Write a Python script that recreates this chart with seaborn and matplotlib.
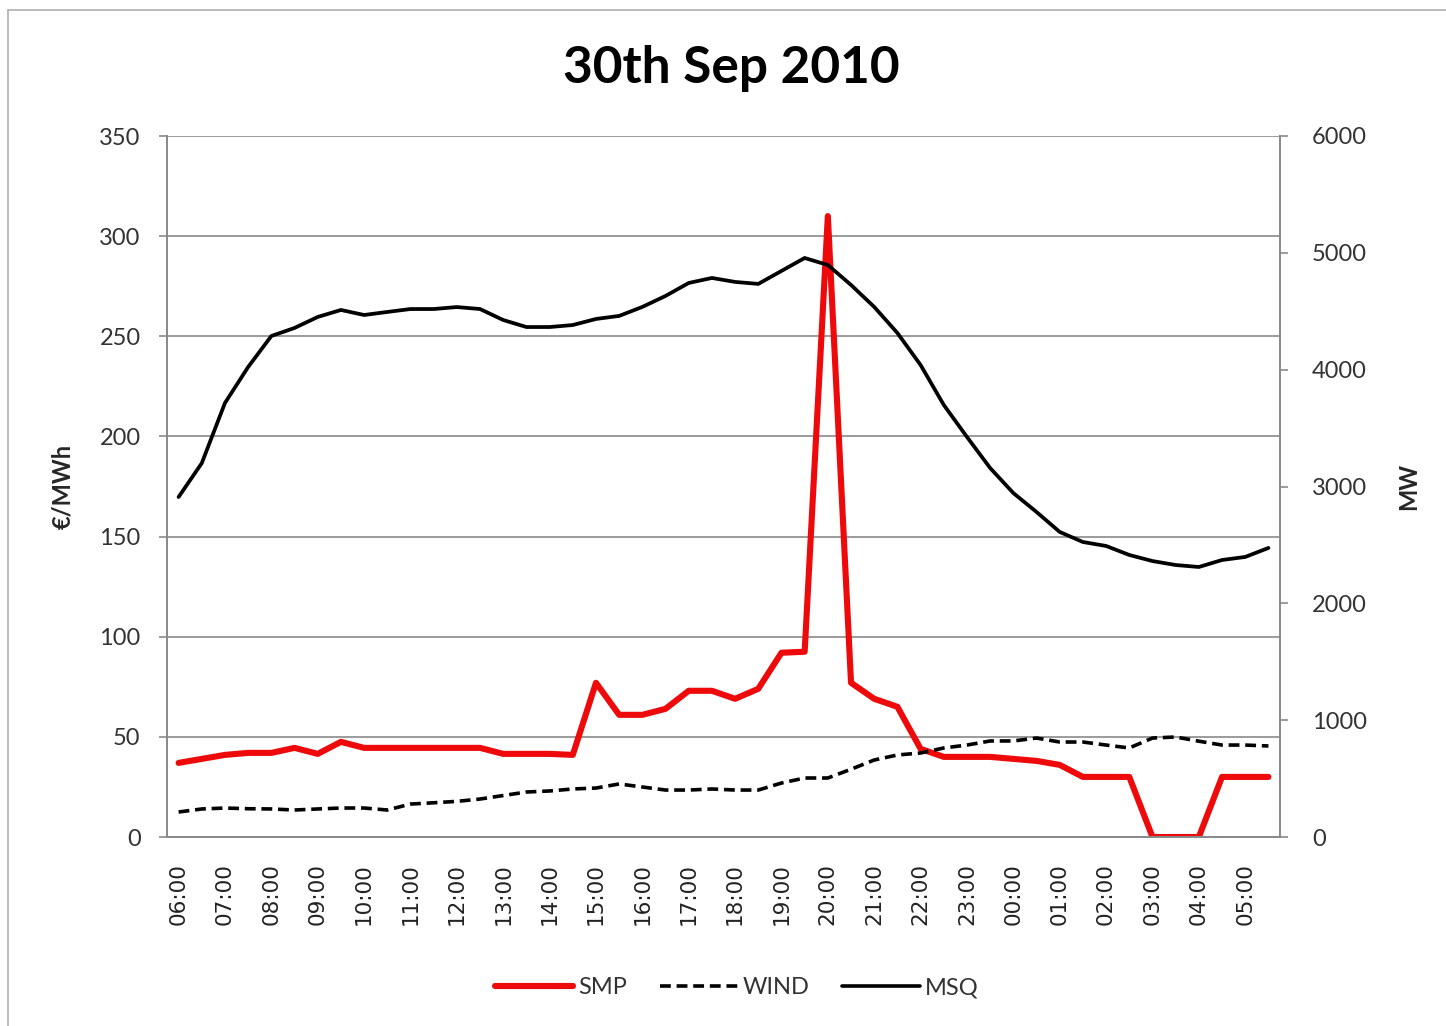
import numpy as np
import pandas as pd
import matplotlib
matplotlib.use("Agg")
import matplotlib.pyplot as plt
import seaborn as sns
from matplotlib.lines import Line2D

# ---------------- data ----------------
title = "30th Sep 2010"
slots = [f"{(6 + i // 2) % 24:02d}:{'00' if i % 2 == 0 else '30'}" for i in range(48)]
hour_labels = ["06:00", "07:00", "08:00", "09:00", "10:00", "11:00", "12:00", "13:00",
               "14:00", "15:00", "16:00", "17:00", "18:00", "19:00", "20:00", "21:00",
               "22:00", "23:00", "00:00", "01:00", "02:00", "03:00", "04:00", "05:00"]

smp = [37, 39, 41, 42, 42, 44.5, 41.5, 47.5, 44.5, 44.5, 44.5, 44.5, 44.5, 44.5,
       41.5, 41.5, 41.5, 41, 77, 61, 61, 64, 73, 73, 69, 74, 92, 92.5, 310, 77, 69, 65,
       44, 40, 40, 40, 39, 38, 36, 30, 30, 30, 0, 0, 0, 30, 30, 30]
wind = [214, 240, 248, 242, 240, 231, 240, 248, 248, 231, 282, 293, 305, 325, 355, 385,
        394, 411, 419, 454, 428, 402, 402, 411, 402, 402, 462, 505, 505, 580, 659, 702,
        719, 762, 787, 822, 822, 847, 813, 813, 787, 762, 847, 856, 820, 787, 787, 779]
msq = [2910, 3200, 3715, 4023, 4288, 4357, 4451, 4511, 4468, 4494, 4519, 4519, 4536, 4519,
       4425, 4365, 4365, 4382, 4434, 4460, 4537, 4631, 4742, 4785, 4751, 4734, 4845, 4956,
       4896, 4725, 4537, 4314, 4040, 3698, 3424, 3158, 2944, 2782, 2611, 2525, 2491, 2414,
       2362, 2328, 2311, 2371, 2397, 2474]

df = pd.DataFrame({"slot": slots, "pos": np.arange(len(slots)),
                   "SMP": smp, "WIND": wind, "MSQ": msq})

# ---------------- style ----------------
sns.set_theme(style="white")
plt.rcParams["font.family"] = ["Lato", "DejaVu Sans"]
GRID = "#8a8a8a"
RED = "#ee0a0a"

fig = plt.figure(figsize=(14.46, 10.26), dpi=100)
ax = fig.add_axes([167 / 1446, 1 - 837 / 1026, (1280 - 167) / 1446, (837 - 136) / 1026])
ax2 = ax.twinx()

sns.lineplot(data=df, x="pos", y="SMP", ax=ax, color=RED, linewidth=4.4,
             label="SMP", legend=False)
sns.lineplot(data=df, x="pos", y="WIND", ax=ax2, color="black", linewidth=2.6,
             linestyle=(0, (3, 1.6)), label="WIND", legend=False)
sns.lineplot(data=df, x="pos", y="MSQ", ax=ax2, color="black", linewidth=2.7,
             label="MSQ", legend=False)

ax.set_xlim(-0.5, len(slots) - 0.5)
ax.set_ylim(0, 350)
ax2.set_ylim(0, 6000)
ax.set_yticks(np.arange(0, 351, 50))
ax2.set_yticks(np.arange(0, 6001, 1000))

ax.set_xticks(np.arange(0, len(slots), 2))
ax.set_xticklabels(hour_labels, rotation=90, fontsize=15.5, color="#222222",
                   family=["DejaVu Sans"])
ax.set_xticks(np.arange(-0.5, len(slots) + 0.5, 1), minor=True)
ax.tick_params(axis="x", which="major", length=0, pad=19)
ax.tick_params(axis="x", which="minor", length=8, width=1.2, color=GRID, direction="out")
ax.tick_params(axis="y", length=6, width=1.2, color=GRID, direction="out",
               labelsize=17, labelcolor="#333333", pad=13)
ax2.tick_params(axis="y", length=6, width=1.2, color=GRID, direction="out",
                labelsize=17, labelcolor="#333333", pad=17)

ax.yaxis.grid(True, color=GRID, linewidth=1.2)
ax.xaxis.grid(False)
ax2.grid(False)
for a in (ax, ax2):
    a.spines["top"].set_visible(False)
    for s in ("left", "right", "bottom"):
        a.spines[s].set_color(GRID)
        a.spines[s].set_linewidth(1.3)
ax.set_xlabel("")
ax.set_ylabel("€/MWh", fontsize=17, fontweight="bold", labelpad=18)
ax2.set_ylabel("MW", fontsize=17, fontweight="bold", labelpad=22)

fig.text(731 / 1446, 1 - 68 / 1026, title, ha="center", va="center",
         fontsize=37, fontweight="bold", color="black")

handles = [Line2D([], [], color=RED, linewidth=4.4),
           Line2D([], [], color="black", linewidth=2.6, linestyle=(0, (3, 1.6))),
           Line2D([], [], color="black", linewidth=2.6)]
fig.legend(handles, ["SMP", "WIND", "MSQ"], loc="center", ncol=3,
           bbox_to_anchor=(737 / 1446, 1 - 988 / 1026), frameon=False,
           fontsize=17, handlelength=3.3, handletextpad=0.2, columnspacing=1.4,
           labelcolor="#333333")

# outer chart border
fig.add_artist(Line2D([8 / 1446, 8 / 1446], [0, 1 - 10 / 1026], color="#b0b0b0",
                      linewidth=1.2, transform=fig.transFigure))
fig.add_artist(Line2D([8 / 1446, 1], [1 - 10 / 1026, 1 - 10 / 1026], color="#b0b0b0",
                      linewidth=1.2, transform=fig.transFigure))

fig.savefig("out.png", dpi=100, facecolor="white")
